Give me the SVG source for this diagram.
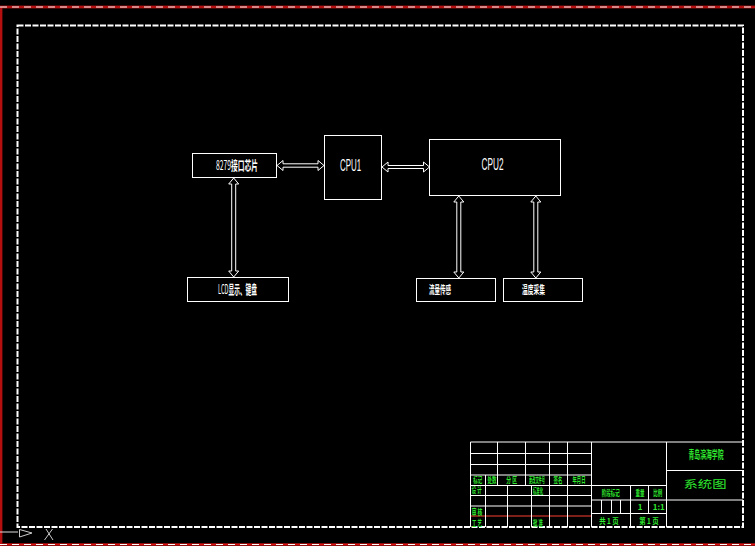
<svg xmlns="http://www.w3.org/2000/svg" width="755" height="546" viewBox="0 0 755 546">
<style>
.box{fill:none;stroke:#fff;stroke-width:1}
.conn{fill:none;stroke:#fff;stroke-width:1}
.lbl{fill:#fff;font-family:"Liberation Sans",sans-serif;text-anchor:middle;font-size:16.500px}
.cjk{fill:#fff;font-family:"Noto Sans CJK SC",sans-serif;text-anchor:middle;font-size:13px;font-weight:700}
.thin{font-weight:400}
.g{fill:#2fe82f;font-family:"Noto Sans CJK SC",sans-serif;text-anchor:middle;font-size:8px;font-weight:700}
.big{font-size:11px}
.sys{font-size:12px;font-weight:400}
.grid{fill:none;stroke:#fff;stroke-width:1}
</style>
<rect width="755" height="546" fill="#000"/>
<g id="sheet-border">
<path d="M1 546V7H755M0 544.500H755" fill="none" stroke="#8c0f0f" stroke-width="3"/>
<path d="M1 546V7H755M0 544.500H755" fill="none" stroke="#e01010" stroke-width="1"/>
<path d="M0 7H755M0 544.500H755" fill="none" stroke="#fff" stroke-width="1" stroke-dasharray="7 5"/>
<rect x="17.500" y="25.500" width="725.500" height="501.500" fill="none" stroke="#fff" stroke-width="2" stroke-dasharray="6 1.500"/>
</g>
<g id="ucs-icon" fill="none" stroke="#fff">
<path d="M0 532H18" stroke="#ddd"/>
<path d="M19.500 529.500L32 533L19.500 537Z" stroke="#ccc"/>
<path d="M44.500 540L52.500 529M46 529L53 540" stroke="#ccc"/>
</g>
<g id="connectors">
<path class="conn" d="M277 165.500l6-5v3.300h35v-3.300l6 5-6 5v-3.300h-35v3.300z"/>
<path class="conn" d="M382 167l6-5v3.500h35.500v-3.500l6 5-6 5v-3.500h-35.500v3.500z"/>
<path class="conn" d="M233.700 178l5 6h-3v87h3l-5 6-5-6h3v-87h-3z"/>
<path class="conn" d="M458.800 196l5 6h-3v70h3l-5 6-5-6h3v-70h-3z"/>
<path class="conn" d="M535.800 196l5 6h-3v70h3l-5 6-5-6h3v-70h-3z"/>
</g>
<g id="n8279"><rect class="box" x="192.500" y="153.500" width="84" height="24"/><text class="cjk" transform="translate(237 170) scale(.52 1)"><tspan class="thin">8279</tspan>接口芯片</text></g>
<g id="cpu1"><rect class="box" x="324.500" y="135.500" width="57" height="64"/><text class="lbl" transform="translate(350.500 170.500) scale(.48 1)">CPU1</text></g>
<g id="cpu2"><rect class="box" x="429.500" y="139.500" width="131" height="56"/><text class="lbl" transform="translate(492.500 170) scale(.5 1)">CPU2</text></g>
<g id="lcd"><rect class="box" x="187.500" y="277.500" width="101" height="24"/><text class="cjk" transform="translate(237.500 294) scale(.44 1)"><tspan class="thin">LCD</tspan>显示、键盘</text></g>
<g id="flow"><rect class="box" x="416.500" y="278.500" width="79" height="23"/><text class="cjk" style="font-size:11px" transform="translate(440 294) scale(.5 1)">流量传感</text></g>
<g id="temp"><rect class="box" x="503.500" y="278.500" width="79" height="23"/><text class="cjk" style="font-size:11px" transform="translate(533.500 294) scale(.52 1)">温度采集</text></g>
<g id="title-block">
<path d="M471 516H591" stroke="#a82a22" stroke-width="1.500" fill="none"/>
<path class="grid" d="M470.500 442H743M470.500 453.500H591.500M470.500 464.500H591.500M470.500 475H591.500M470.500 485.500H666.500M470.500 495.500H591.500M470.500 506H591.500M666.500 470.500H743M591.500 500H743M591.500 513.500H666.500M470.500 442V527M497.500 442V485.500M525.500 442V485.500M549.500 442V527M567.500 442V527M591.500 442V527M485.500 475V527M507.500 485.500V527M531.500 485.500V527M666.500 442V527M630.500 485.500V527M648.500 485.500V513.500M601.500 500V513.500M611.500 500V513.500M620.500 500V513.500"/>
<text class="g" transform="translate(477.700 483) scale(.56 1)">标记</text>
<text class="g" transform="translate(492 483) scale(.56 1)">处数</text>
<text class="g" transform="translate(511.700 483) scale(.6 1)">分 区</text>
<text class="g" transform="translate(537 483) scale(.4 1)">更改文件号</text>
<text class="g" transform="translate(558 483) scale(.56 1)">签名</text>
<text class="g" transform="translate(579 483) scale(.54 1)">年月日</text>
<text class="g" transform="translate(476.700 493) scale(.55 1)">设 计</text>
<text class="g" transform="translate(538 494) scale(.42 1)">标准化</text>
<text class="g" transform="translate(477 515) scale(.6 1)">审 核</text>
<text class="g" transform="translate(477 525.500) scale(.55 1)">工 艺</text>
<text class="g" transform="translate(538 525.500) scale(.55 1)">批 准</text>
<text class="g" transform="translate(610.700 496) scale(.56 1)">阶段标记</text>
<text class="g" transform="translate(640 496) scale(.56 1)">重量</text>
<text class="g" transform="translate(657.700 496) scale(.56 1)">比例</text>
<text class="g thin" x="640" y="510">1</text>
<text class="g thin" x="658.700" y="510">1:1</text>
<text class="g" transform="translate(609 524) scale(.8 1)">共 1 页</text>
<text class="g" transform="translate(649 524) scale(.8 1)">第 1 页</text>
<text class="g big" transform="translate(706 459) scale(.53 1)">青岛滨海学院</text>
<text class="g sys" transform="translate(705 488) scale(1.2 .85)">系统图</text>
</g>
</svg>
